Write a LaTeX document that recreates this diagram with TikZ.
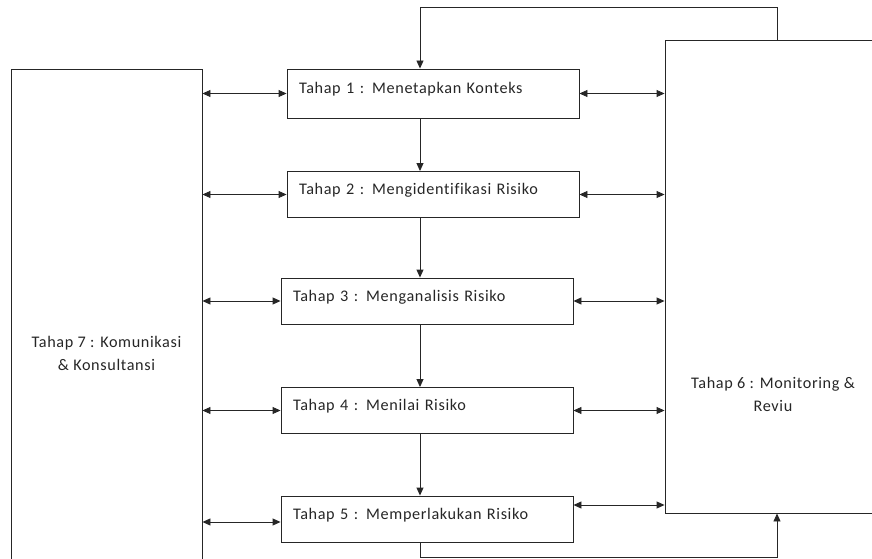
\documentclass[tikz,border=0pt]{standalone}
\usepackage{fontspec}
\setmainfont{Carlito}[LetterSpace = 4, Ligatures = NoCommon]
\usetikzlibrary{arrows.meta}

\tikzset{
	stagebox/.style = {draw, rectangle, inner xsep = 12pt, inner ysep = 0pt, text width = 268pt, align = left, text height = 23pt, text depth = 23pt},
	sidebox/.style = {draw, rectangle, inner sep = 0pt}
}

\begin{document}
\begin{tikzpicture}[> = {Triangle[length = 8pt, width = 7pt]}, x = 1pt, y = -1pt, font = \fontsize{16.2}{23}\selectfont, color = black!85, line width = 0.9pt]

	\useasboundingbox (0, 0) rectangle (872, 559);
	\clip (0, 0) rectangle (872, 559);

	% Side boxes
	
	\node [sidebox, minimum width = 191pt, minimum height = 569pt, align = center] (comm) at (106.5, 353.5) {Tahap 7 : Komunikasi\\ \& Konsultansi};
	\node [sidebox, minimum width = 216pt, minimum height = 473pt] (mon) at (773, 276.5) {};
	\node [align = center] (montext) at (773, 394.5) {Tahap 6 : Monitoring \&\\ Reviu};
	
	% Stages
	
	\node [stagebox, text height = 24.5pt, text depth = 24.5pt] (t1) at (433, 93.5) {Tahap 1 : Menetapkan Konteks};
	\node [stagebox] (t2) at (433, 194.5) {Tahap 2 : Mengidentifikasi Risiko};
	\node [stagebox] (t3) at (427, 301) {Tahap 3 : Menganalisis Risiko};
	\node [stagebox] (t4) at (427, 410.5) {Tahap 4 : Menilai Risiko};
	\node [stagebox] (t5) at (427, 519) {Tahap 5 : Memperlakukan Risiko};
	
	% Flow
	
	\coordinate (spine) at (420, 0);
	\coordinate (feed) at (777, 0);
	\coordinate (topturn) at (420, 7);
	\coordinate (botturn) at (420, 557);
	
	\foreach \a/\b in {t1/t2, t2/t3, t3/t4, t4/t5}
		\draw [->] (\a.south -| spine) -- (\b.north -| spine);
	
	\draw [->] (mon.north -| feed) |- (topturn) -- (t1.north -| topturn);
	\draw [->] (t5.south -| botturn) -- (botturn) -| (mon.south -| feed);
	
	% Communication and review
	
	\foreach \s in {t1, t2, t3, t4} {
		\draw [<->] (comm.east |- \s.west) -- (\s.west);
		\draw [<->] (\s.east) -- (\s.east -| mon.west);
	}
	\draw [<->] ([yshift = -3pt] t5.west -| comm.east) -- ([yshift = -3pt] t5.west);
	\draw [<->] ([yshift = 14pt] t5.east) -- ([yshift = 14pt] t5.east -| mon.west);

\end{tikzpicture}
\end{document}
